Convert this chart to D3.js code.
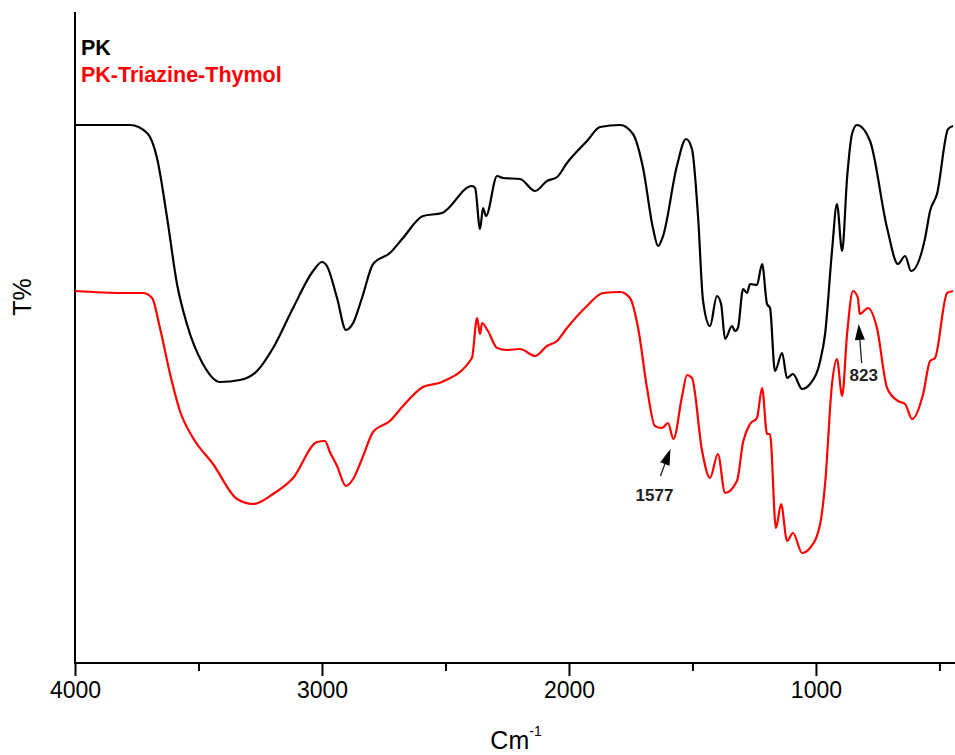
<!DOCTYPE html>
<html>
<head>
<meta charset="utf-8">
<script src="https://cdn.jsdelivr.net/npm/d3@7"></script>
<style>
  html, body { margin: 0; padding: 0; background: #fff; }
  svg { display: block; font-family: "Liberation Sans", Arial, sans-serif; }
</style>
</head>
<body>
<svg id="chart" width="955" height="755"></svg>
<script>
// Wavenumbers (cm^-1) and transmittance readings (arbitrary T% units)
const pkWavenumber = [4000,3777,3708,3668,3627,3587,3547,3482,3413,3332,3263,3198,3117,3036,3000,2980,2939,2903,2874,2838,2793,2725,2672,2591,2514,2393,2380,2360,2348,2336,2291,2267,2198,2137,2089,2048,2008,1927,1874,1793,1741,1700,1660,1639,1619,1563,1526,1502,1477,1457,1429,1401,1384,1368,1340,1328,1316,1295,1279,1267,1239,1218,1198,1186,1166,1137,1117,1093,1056,1024,983,963,935,915,894,874,854,834,781,712,668,639,615,558,538,510,465,445];
const pkT = [53.8,53.8,53.0,50.5,44.5,37.9,33.9,29.9,28.1,28.3,29.2,31.5,35.5,39.2,40.1,39.7,36.5,33.3,34.0,36.5,39.9,41.0,42.5,44.7,45.0,47.7,47.5,43.4,45.5,44.7,48.7,48.5,48.4,47.2,48.2,48.6,50.0,52.2,53.6,53.8,52.9,49.5,43.5,41.7,42.7,49.7,52.4,51.4,44.5,36.2,33.7,36.7,35.9,32.4,33.7,33.2,33.5,37.4,37.0,37.9,37.8,39.9,35.9,35.5,29.2,31.0,28.5,28.9,27.4,27.9,30.2,32.9,41.2,45.9,41.2,48.5,52.9,53.8,52.2,43.5,39.9,40.7,39.2,42.5,45.2,46.9,53.4,53.7];

const pttWavenumber = [4000,3806,3725,3688,3656,3615,3575,3522,3441,3344,3279,3198,3117,3020,2988,2968,2939,2903,2874,2838,2793,2725,2672,2591,2514,2393,2372,2360,2352,2328,2291,2251,2198,2137,2089,2048,2008,1927,1862,1793,1753,1720,1684,1652,1623,1599,1577,1542,1522,1502,1461,1429,1397,1368,1320,1295,1267,1239,1218,1198,1186,1162,1141,1117,1093,1056,1024,983,963,935,915,894,874,850,830,823,789,753,712,668,639,611,566,538,518,469,445];
const pttT = [37.2,37.0,37.0,36.5,33.5,28.9,25.2,22.5,19.9,16.4,15.9,16.9,18.5,22.1,22.2,21.1,19.7,17.7,18.4,20.4,23.1,24.2,25.7,27.6,28.1,30.5,34.5,32.9,34.0,33.2,31.5,31.3,31.4,30.7,31.7,32.2,33.5,35.7,37.0,37.1,36.5,33.5,27.5,23.7,23.5,24.0,22.4,26.7,28.8,28.5,21.2,18.5,20.9,17.0,18.2,22.1,23.9,24.5,27.5,22.9,22.9,13.5,15.9,12.2,13.0,11.0,11.5,13.9,17.9,27.9,30.4,26.7,32.9,37.2,36.5,34.9,35.5,33.5,27.5,26.2,25.9,24.4,26.9,30.2,30.5,37.0,37.2];

const seriesNames = ["PK", "PK-Triazine-Thymol"];
const seriesColors = ["#000000", "#ff0000"];
const xTicks = [4000, 3000, 2000, 1000];
const xMinorTicks = [3500, 2500, 1500, 500];
const annotationLabels = ["1577", "823"];
const annotationWavenumbers = [1577, 823];

(function () {
const svg = d3.select("#chart");
const mL = 75, mR = 955, mT = 12, mB = 663;

const x = d3.scaleLinear().domain([4000, 437]).range([mL, mR]);
const y = d3.scaleLinear().domain([0, 65.1]).range([mB, mT]);

// Axes
const xAxis = d3.axisBottom(x).tickValues(xTicks).tickSize(13).tickPadding(6).tickFormat(d3.format("d"));
const gx = svg.append("g").attr("transform", `translate(0,${mB})`).call(xAxis);
gx.select(".domain").remove();
gx.append("line").attr("x1", mL).attr("x2", mR).attr("y1", 0).attr("y2", 0)
  .attr("stroke", "#000").attr("stroke-width", 2);
gx.selectAll(".tick line").attr("stroke", "#000").attr("stroke-width", 2);
gx.selectAll(".tick text").attr("fill", "#000").attr("font-size", 23)
  .attr("font-family", "Liberation Sans, Arial, sans-serif");

const minor = d3.axisBottom(x).tickValues(xMinorTicks).tickSize(8).tickFormat("");
const gm = svg.append("g").attr("transform", `translate(0,${mB})`).call(minor);
gm.select(".domain").remove();
gm.selectAll(".tick line").attr("stroke", "#000").attr("stroke-width", 2);

svg.append("line").attr("x1", mL).attr("x2", mL).attr("y1", mT).attr("y2", mB + 1)
  .attr("stroke", "#000").attr("stroke-width", 2);

// Axis titles
const xt = svg.append("text").attr("x", 516).attr("y", 749).attr("text-anchor", "middle")
  .attr("font-size", 25).attr("fill", "#000");
xt.append("tspan").text("Cm");
xt.append("tspan").attr("font-size", 14).attr("dy", -13).text("-1");

svg.append("text").attr("transform", "translate(31,297) rotate(-90)")
  .attr("text-anchor", "middle").attr("font-size", 25).attr("fill", "#000").text("T%");

// Lines
const line = d3.line().x(d => x(d[0])).y(d => y(d[1])).curve(d3.curveMonotoneX);
const data = [
  d3.zip(pkWavenumber, pkT).sort((a, b) => a[0] - b[0]),
  d3.zip(pttWavenumber, pttT).sort((a, b) => a[0] - b[0])
];
const defs = svg.append("defs");
defs.append("clipPath").attr("id", "clip")
  .append("rect").attr("x", mL).attr("y", 0).attr("width", mR - mL).attr("height", mB);
svg.append("g").attr("clip-path", "url(#clip)").selectAll("path.series").data(data).join("path")
  .attr("class", "series")
  .attr("d", line)
  .attr("fill", "none")
  .attr("stroke", (d, i) => seriesColors[i])
  .attr("stroke-width", 2.2)
  .attr("stroke-linejoin", "round");

// Legend
seriesNames.forEach((n, i) => {
  svg.append("text").attr("x", 81).attr("y", 55 + i * 27)
    .attr("font-size", 21.5).attr("font-weight", "bold").attr("fill", seriesColors[i]).text(n);
});

// Annotations (arrow pointing at the red-curve band)
const annGeom = [
  { tip: [-3, 10], tail: [-13, 37], label: [-19, 62] },
  { tip: [-1, 10], tail: [2, 49], label: [4, 67] }
];
annotationWavenumbers.forEach((wn, i) => {
  const idx = pttWavenumber.indexOf(wn);
  const px = x(wn), py = y(pttT[idx]);
  const g = annGeom[i];
  const tx = px + g.tip[0], ty = py + g.tip[1];
  const sx = px + g.tail[0], sy = py + g.tail[1];
  const dx = tx - sx, dy = ty - sy;
  const len = Math.hypot(dx, dy), ux = dx / len, uy = dy / len;
  const L = 16, W = 5;
  const bx = tx - ux * L, by = ty - uy * L;
  svg.append("line").attr("x1", sx).attr("y1", sy).attr("x2", bx).attr("y2", by)
    .attr("stroke", "#222").attr("stroke-width", 1.3);
  svg.append("path")
    .attr("d", `M${tx},${ty} L${bx - uy * W},${by + ux * W} L${bx + uy * W},${by - ux * W} Z`)
    .attr("fill", "#000");
  svg.append("text").attr("x", px + g.label[0]).attr("y", py + g.label[1])
    .attr("text-anchor", "middle").attr("font-size", 17).attr("font-weight", "bold")
    .attr("fill", "#222").text(annotationLabels[i]);
});
})();
</script>
</body>
</html>
